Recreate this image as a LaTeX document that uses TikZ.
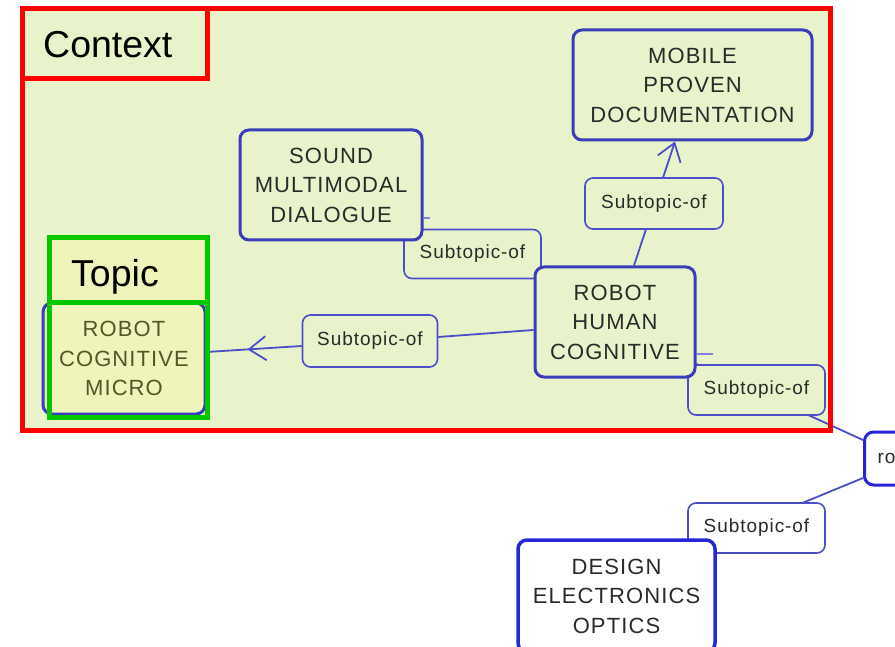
\documentclass[tikz,border=0pt]{standalone}
\usepackage{fontspec}
\setmainfont{Liberation Sans}
\newfontfamily\nodefont[LetterSpace=5]{Liberation Sans}
\usetikzlibrary{arrows.meta,decorations.markings}
\definecolor{bggreen}{HTML}{E8F2CB}
\definecolor{topicyel}{HTML}{EEF4BA}
\definecolor{nodeblue}{HTML}{3A3DB8}
\definecolor{designblue}{HTML}{2626D8}
\definecolor{labblue}{HTML}{4A4EC8}
\definecolor{frred}{HTML}{FF0000}
\definecolor{frgreen}{HTML}{00C800}
\definecolor{olivetext}{HTML}{55552A}
\definecolor{txt}{HTML}{2A2A2A}
\pgfdeclarelayer{back}
\pgfdeclarelayer{lines}
\pgfsetlayers{back,lines,main}
\begin{document}
\begin{tikzpicture}[x=1pt,y=-1pt,
  mainnode/.style={draw=nodeblue, line width=3pt, rounded corners=9pt, align=center,
    font=\nodefont\fontsize{22}{29.5}\selectfont, text=txt, inner sep=0pt, fill=bggreen},
  labnode/.style={draw=labblue, line width=1.6pt, rounded corners=8pt,
    font=\nodefont\fontsize{19}{22}\selectfont, text=txt, inner sep=0pt,
    minimum width=137pt, minimum height=50pt, fill=bggreen},
  conn/.style={draw=labblue, line width=1.8pt},
  stub/.style={draw=labblue!70, line width=1.3pt},
  barb/.style={-{Straight Barb[length=17pt,width=24pt,line width=1.8pt]}},
  frame/.style={line width=5pt},
  biglabel/.style={font=\fontsize{37.5}{40}\selectfont, text=black, inner sep=0pt, anchor=base west}
]
\useasboundingbox (0,0) rectangle (895,647);
\clip (0,0) rectangle (895,647);
\begin{pgfonlayer}{back}
  \fill[bggreen] (22,9) rectangle (830,430);
\end{pgfonlayer}

% relation labels
\node[labnode, minimum height=49pt] (l1) at (472.5,254) {Subtopic-of};
\node[labnode, minimum width=138pt, minimum height=51pt] (l2) at (654,203.5) {Subtopic-of};
\node[labnode, minimum width=135pt, minimum height=52pt] (l3) at (370,341) {Subtopic-of};
\node[labnode] (l4) at (756.5,390) {Subtopic-of};
\node[labnode, fill=white] (l5) at (756.5,528) {Subtopic-of};

% topic nodes
\node[mainnode, minimum width=182pt, minimum height=110pt] (sound) at (331,185) {SOUND\\MULTIMODAL\\DIALOGUE};
\node[mainnode, minimum width=239pt, minimum height=110pt] (mobile) at (692.5,85) {MOBILE\\PROVEN\\DOCUMENTATION};
\node[mainnode, minimum width=160pt, minimum height=110pt] (rhc) at (615,322) {ROBOT\\HUMAN\\COGNITIVE};
\node[mainnode, draw=designblue, line width=3.5pt, fill=white, minimum width=197pt, minimum height=112pt] (design) at (616.5,596) {DESIGN\\ELECTRONICS\\OPTICS};
\node[mainnode, fill=topicyel, text=olivetext, minimum width=162pt, minimum height=111pt] (micro) at (124,358.5) {ROBOT\\COGNITIVE\\MICRO};
\node[mainnode, draw=designblue, fill=white, anchor=west, minimum height=53pt, text width=80pt,
  align=left, inner xsep=13pt, font=\nodefont\fontsize{19}{22}\selectfont] (ro) at (863,458.5) {ro};

% connectors
\begin{pgfonlayer}{lines}
  \draw[conn, postaction={decorate, decoration={markings,
      mark=at position 0.57 with {\arrow{Straight Barb[length=17pt,width=24pt,line width=1.8pt]}}}}]
    ([yshift=-5pt]l3.west) -- ([yshift=6.5pt]micro.east);
  \draw[conn] ([yshift=4pt]l3.east) -- ([yshift=-8pt]rhc.west);
  \draw[conn] (rhc.north west) -- (sound.south east);
  \draw[stub] ([yshift=-33pt]sound.east) -- ++(6,0);
  \draw[conn, barb] ([xshift=19pt]rhc.north) -- ([xshift=-17.5pt]mobile.south);
  \draw[conn] ([yshift=18.5pt]ro.west) -- ([yshift=-42pt]rhc.east);
  \draw[stub] ([yshift=-32pt]rhc.east) -- ++(16,0);
  \draw[conn] ([yshift=-19.5pt]ro.west) -- (design.north east);
\end{pgfonlayer}

% highlight frames
\draw[frame, draw=frgreen, fill=topicyel] (49,238) rectangle (207,303);
\draw[frame, draw=frgreen] (49,303) rectangle (207,417);
\node[biglabel] (topiclabel) at (71,287) {Topic};
\draw[frame, draw=frred, fill=bggreen] (22,9) rectangle (207,78.5);
\node[biglabel] (ctxlabel) at (43,58) {Context};
\draw[frame, draw=frred] (22,9) rectangle (830,430);
\end{tikzpicture}
\end{document}
